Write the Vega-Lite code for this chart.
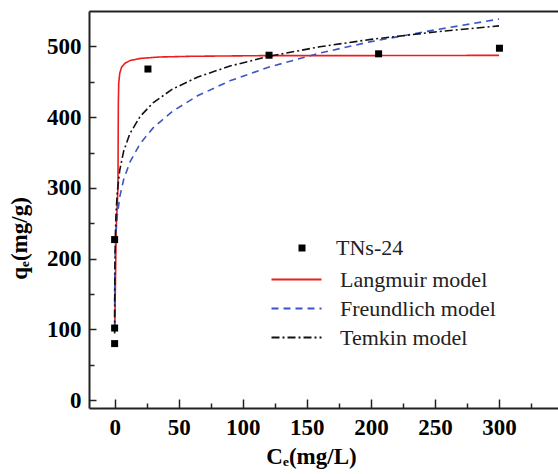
{
  "$schema": "https://vega.github.io/schema/vega-lite/v6.json",
  "width": 469,
  "height": 397,
  "autosize": {"type": "none"},
  "padding": {"left": 89, "top": 11, "right": 0, "bottom": 66},
  "config": {
    "view": {"stroke": null},
    "font": "Liberation Serif",
    "legend": {"labelFont": "Liberation Serif", "labelFontSize": 22, "labelColor": "#222", "labelFontWeight": "normal"},
    "axis": {
      "domainColor": "#222",
      "domainWidth": 2,
      "tickColor": "#222",
      "tickWidth": 1.5,
      "grid": false,
      "labelFont": "Liberation Serif",
      "labelFontWeight": "bold",
      "labelFontSize": 23,
      "labelColor": "#000",
      "titleFont": "Liberation Serif",
      "titleFontWeight": "bold",
      "titleFontSize": 23,
      "titleColor": "#000"
    }
  },
  "datasets": {
    "pts": [
      {"C": 0, "q": 80, "series": "TNs-24"},
      {"C": 0, "q": 102, "series": "TNs-24"},
      {"C": 0, "q": 227, "series": "TNs-24"},
      {"C": 26, "q": 468, "series": "TNs-24"},
      {"C": 120.5, "q": 487.5, "series": "TNs-24"},
      {"C": 206, "q": 489.5, "series": "TNs-24"},
      {"C": 300.3, "q": 497.4, "series": "TNs-24"}
    ],
    "curves": [
      {"C": 0.1, "q": 97, "series": "Langmuir model"},
      {"C": 1.2, "q": 240, "series": "Langmuir model"},
      {"C": 2.6, "q": 300, "series": "Langmuir model"},
      {"C": 2.9, "q": 420, "series": "Langmuir model"},
      {"C": 3.2, "q": 448, "series": "Langmuir model"},
      {"C": 4, "q": 462, "series": "Langmuir model"},
      {"C": 5.5, "q": 471, "series": "Langmuir model"},
      {"C": 8, "q": 476, "series": "Langmuir model"},
      {"C": 12, "q": 480, "series": "Langmuir model"},
      {"C": 20, "q": 483, "series": "Langmuir model"},
      {"C": 35, "q": 485, "series": "Langmuir model"},
      {"C": 60, "q": 486, "series": "Langmuir model"},
      {"C": 120, "q": 487, "series": "Langmuir model"},
      {"C": 200, "q": 487, "series": "Langmuir model"},
      {"C": 300, "q": 487.3, "series": "Langmuir model"},
      {"C": 0.003, "q": 101, "series": "Freundlich model"},
      {"C": 0.01, "q": 120.5, "series": "Freundlich model"},
      {"C": 0.03, "q": 141.3, "series": "Freundlich model"},
      {"C": 0.1, "q": 168.3, "series": "Freundlich model"},
      {"C": 0.3, "q": 197.4, "series": "Freundlich model"},
      {"C": 1, "q": 235, "series": "Freundlich model"},
      {"C": 2, "q": 259.8, "series": "Freundlich model"},
      {"C": 4, "q": 287.3, "series": "Freundlich model"},
      {"C": 7, "q": 311.6, "series": "Freundlich model"},
      {"C": 12, "q": 336.9, "series": "Freundlich model"},
      {"C": 20, "q": 362.8, "series": "Freundlich model"},
      {"C": 30, "q": 384.8, "series": "Freundlich model"},
      {"C": 45, "q": 408.1, "series": "Freundlich model"},
      {"C": 65, "q": 430.5, "series": "Freundlich model"},
      {"C": 90, "q": 451.3, "series": "Freundlich model"},
      {"C": 120, "q": 470.5, "series": "Freundlich model"},
      {"C": 160, "q": 490.5, "series": "Freundlich model"},
      {"C": 200, "q": 506.7, "series": "Freundlich model"},
      {"C": 250, "q": 523.3, "series": "Freundlich model"},
      {"C": 300, "q": 538.5, "series": "Freundlich model"},
      {"C": 0.03, "q": 94.3, "series": "Temkin model"},
      {"C": 0.05, "q": 118.4, "series": "Temkin model"},
      {"C": 0.1, "q": 151.1, "series": "Temkin model"},
      {"C": 0.2, "q": 183.8, "series": "Temkin model"},
      {"C": 0.5, "q": 227.1, "series": "Temkin model"},
      {"C": 1, "q": 259.8, "series": "Temkin model"},
      {"C": 2, "q": 292.5, "series": "Temkin model"},
      {"C": 4, "q": 325.2, "series": "Temkin model"},
      {"C": 7, "q": 351.6, "series": "Temkin model"},
      {"C": 12, "q": 377.1, "series": "Temkin model"},
      {"C": 20, "q": 401.2, "series": "Temkin model"},
      {"C": 30, "q": 420.3, "series": "Temkin model"},
      {"C": 45, "q": 439.5, "series": "Temkin model"},
      {"C": 65, "q": 456.8, "series": "Temkin model"},
      {"C": 90, "q": 472.2, "series": "Temkin model"},
      {"C": 120, "q": 485.8, "series": "Temkin model"},
      {"C": 160, "q": 499.4, "series": "Temkin model"},
      {"C": 200, "q": 509.9, "series": "Temkin model"},
      {"C": 250, "q": 520.4, "series": "Temkin model"},
      {"C": 300, "q": 529, "series": "Temkin model"}
    ]
  },
  "resolve": {
    "scale": {"x": "shared", "y": "shared"},
    "axis": {"x": "independent", "y": "independent"}
  },
  "layer": [
    {
      "data": {"name": "pts"},
      "mark": {"type": "point", "opacity": 0},
      "encoding": {
        "x": {"field": "C", "type": "quantitative", "scale": {"domain": [-20, 346], "nice": false, "zero": false},
          "axis": {"orient": "top", "title": null, "labels": false, "ticks": false, "domain": true}},
        "y": {"field": "q", "type": "quantitative", "scale": {"domain": [-11, 550], "nice": false, "zero": false},
          "axis": {"orient": "left", "title": null, "labels": false, "ticks": true, "tickSize": -5, "domain": false,
            "values": [50, 150, 250, 350, 450]}}
      }
    },
    {
      "data": {"name": "pts"},
      "mark": {"type": "point", "opacity": 0},
      "encoding": {
        "x": {"field": "C", "type": "quantitative",
          "axis": {"orient": "bottom", "title": null, "labels": false, "ticks": true, "tickSize": -5, "domain": false,
            "values": [25, 75, 125, 175, 225, 275, 325]}},
        "y": {"field": "q", "type": "quantitative", "axis": null}
      }
    },
    {
      "data": {"name": "curves"},
      "mark": {"type": "line", "strokeWidth": 1.6, "clip": true},
      "encoding": {
        "x": {"field": "C", "type": "quantitative",
          "axis": {"orient": "bottom", "values": [0, 50, 100, 150, 200, 250, 300], "tickSize": -9, "labelPadding": 17,
            "title": "Cₑ(mg/L)", "titleX": 222, "titleY": 48, "titleAnchor": "middle", "titleBaseline": "middle"}},
        "y": {"field": "q", "type": "quantitative",
          "axis": {"orient": "left", "values": [0, 100, 200, 300, 400, 500], "tickSize": -7, "labelPadding": 15,
            "title": "qₑ(mg/g)", "titleX": -70, "titleY": 227, "titleAngle": 270, "titleAlign": "center", "titleBaseline": "middle"}},
        "stroke": {"field": "series", "type": "nominal",
          "scale": {"domain": ["Langmuir model", "Freundlich model", "Temkin model"], "range": ["#ee1c1c", "#3b55c3", "#111111"]},
          "legend": {"title": null, "orient": "none", "legendX": 194, "legendY": 255, "padding": 0,
            "symbolType": "M-2,0H2", "symbolSize": 625, "symbolStrokeWidth": 1.8,
            "labelFont": "Liberation Serif", "labelFontSize": 22, "labelColor": "#222", "labelOffset": 30, "rowPadding": 4}},
        "strokeDash": {"field": "series", "type": "nominal",
          "scale": {"domain": ["Langmuir model", "Freundlich model", "Temkin model"], "range": [[1, 0], [7, 5], [8, 3, 2, 3]]},
          "legend": {"title": null, "orient": "none", "legendX": 194, "legendY": 255, "padding": 0,
            "symbolType": "M-2,0H2", "symbolSize": 625, "symbolStrokeWidth": 1.8,
            "labelFont": "Liberation Serif", "labelFontSize": 22, "labelColor": "#222", "labelOffset": 30, "rowPadding": 4}}
      }
    },
    {
      "data": {"name": "pts"},
      "mark": {"type": "square", "size": 49, "opacity": 1},
      "encoding": {
        "x": {"field": "C", "type": "quantitative", "axis": null},
        "y": {"field": "q", "type": "quantitative", "axis": null},
        "fill": {"field": "series", "type": "nominal",
          "scale": {"domain": ["TNs-24"], "range": ["#000000"]},
          "legend": {"title": null, "orient": "none", "legendX": 202, "legendY": 226, "padding": 0,
            "symbolType": "square", "symbolSize": 49, "symbolStrokeWidth": 0,
            "labelFont": "Liberation Serif", "labelFontSize": 22, "labelColor": "#222", "labelOffset": 23}}
      }
    }
  ]
}
